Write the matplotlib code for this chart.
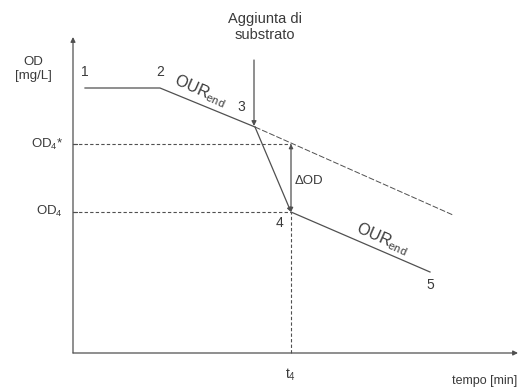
import matplotlib.pyplot as plt

plt.rcParams['font.family'] = ['Liberation Sans', 'DejaVu Sans']
plt.rcParams['mathtext.default'] = 'regular'

# Curve points (time, OD) in arbitrary units
point_names = ["1", "2", "3", "4", "5"]
t_points = [12, 87, 182, 218, 357]
od_points = [265, 265, 226, 141, 81]

# Endogenous OUR extrapolated past the substrate addition
t_extrap = [182, 380]
od_extrap = [226, 138]

t4 = 218
od4 = 141
od4_star = 209

t_max = 445
od_max = 316

line_col = "#505050"
text_col = "#3a3a3a"

fig = plt.figure(figsize=(5.2, 3.87), dpi=100)
ax = fig.add_axes([0, 0, 1, 1])
ax.set_xlim(-73, 447)
ax.set_ylim(-34, 353)
ax.axis("off")

# Axes drawn as arrows
ax.annotate("", xy=(0, od_max), xytext=(0, 0),
            arrowprops=dict(arrowstyle="-|>", color=line_col, lw=0.9,
                            mutation_scale=7, shrinkA=0, shrinkB=0))
ax.annotate("", xy=(t_max, 0), xytext=(0, 0),
            arrowprops=dict(arrowstyle="-|>", color=line_col, lw=0.9,
                            mutation_scale=7, shrinkA=0, shrinkB=0))

# Main OD curve 1-2-3-4-5
ax.plot(t_points[:3], od_points[:3], color=line_col, lw=0.9)
ax.plot(t_points[3:], od_points[3:], color=line_col, lw=0.9)
ax.annotate("", xy=(t_points[3], od_points[3]), xytext=(t_points[2], od_points[2]),
            arrowprops=dict(arrowstyle="-|>", color=line_col, lw=0.9,
                            mutation_scale=6, shrinkA=0, shrinkB=0))
ax.plot(t_extrap, od_extrap, color=line_col, lw=0.7, ls=(0, (6, 2)))

# Reference dashed lines
ax.plot([0, t4], [od4_star, od4_star], color=line_col, lw=0.8, ls=(0, (3, 2)))
ax.plot([0, t4], [od4, od4], color=line_col, lw=0.8, ls=(0, (3, 2)))
ax.plot([t4, t4], [0, od4], color=line_col, lw=0.8, ls=(0, (3, 2)))

# Delta OD double arrow
ax.annotate("", xy=(t4, od4_star), xytext=(t4, od4),
            arrowprops=dict(arrowstyle="<|-|>", color=line_col, lw=0.9,
                            mutation_scale=6, shrinkA=0, shrinkB=0))
ax.text(t4 + 4, (od4 + od4_star) / 2 - 3, "ΔOD", fontsize=9.5, color=text_col,
        ha="left", va="center")

# Substrate addition arrow
ax.annotate("", xy=(t_points[2] - 1, od_points[2] + 1), xytext=(t_points[2] - 1, 293),
            arrowprops=dict(arrowstyle="-|>", color=line_col, lw=0.9,
                            mutation_scale=7, shrinkA=0, shrinkB=0))
ax.text(192, 326, "Aggiunta di\nsubstrato", fontsize=10.5, color=text_col,
        ha="center", va="center", linespacing=1.25)

# Point numbers
offsets = [(0, 16), (0, 16), (-14, 20), (-11, -11), (0, -13)]
for name, t, od, (dx, dy) in zip(point_names, t_points, od_points, offsets):
    ax.text(t + dx, od + dy, name, fontsize=10, color=text_col,
            ha="center", va="center")

# OUR_end labels along the slopes
our_label = r"$OUR_{end}$"
ax.text(127, 262, our_label, fontsize=11.5, color=text_col,
        ha="center", va="center", rotation=-24)
ax.text(309, 114, our_label, fontsize=11.5, color=text_col,
        ha="center", va="center", rotation=-24)

# Axis labels
ax.text(-40, 284, "OD\n[mg/L]", fontsize=9.5, color=text_col,
        ha="center", va="center", linespacing=1.25)
ax.text(-10, od4_star, r"$OD_4$*", fontsize=9.5, color=text_col,
        ha="right", va="center")
ax.text(-10, od4 + 1, r"$OD_4$", fontsize=9.5, color=text_col,
        ha="right", va="center")
ax.plot([0, 4], [od4_star, od4_star], color=line_col, lw=0.8)
ax.plot([0, 4], [od4, od4], color=line_col, lw=0.8)
ax.text(t4, -22, r"$t_4$", fontsize=10, color=text_col,
        ha="center", va="center")
ax.text(444, -28, "tempo [min]", fontsize=9, color=text_col,
        ha="right", va="center")

fig.savefig("out.png", dpi=100)
